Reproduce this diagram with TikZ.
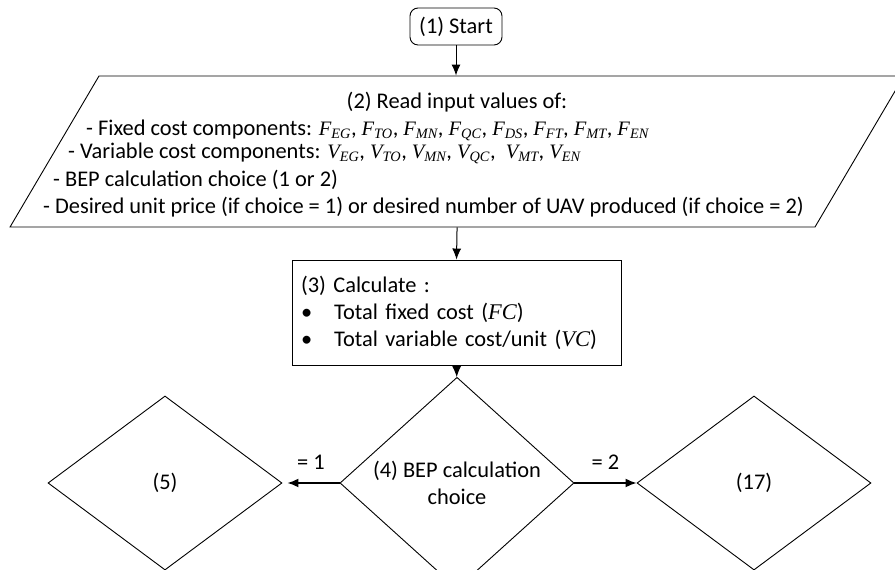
\documentclass[tikz,border=0pt]{standalone}
\usepackage{fontspec}
\setmainfont{Carlito}
\newfontfamily\tnr{Liberation Serif}
\usetikzlibrary{shapes.geometric,positioning,arrows.meta}

% cost symbol with subscript, e.g. \cv{F}{EG}
\newcommand{\cv}[2]{{\fontsize{20.5}{25}\tnr\itshape #1\textsubscript{#2}}}

\begin{document}
\begin{tikzpicture}[x=1pt, y=1pt, >={Latex[length=11pt,width=9pt]},
    font=\fontsize{22.4}{27}\selectfont,
    startbox/.style={draw, line width=0.9pt, rounded corners=8pt, minimum width=92pt, minimum height=37pt, inner sep=2pt},
    iobox/.style={draw, line width=0.9pt, trapezium, trapezium left angle=59.5, trapezium right angle=120.5, inner sep=0pt},
    procbox/.style={draw, line width=0.9pt, minimum width=329pt, minimum height=105pt, text width=311pt, align=left, inner xsep=9pt},
    decision/.style={draw, line width=0.9pt, diamond, minimum width=234pt, minimum height=174pt, inner sep=0pt, align=center},
    flow/.style={->, line width=1pt},
    branch/.style={->, line width=1.7pt}]
  \useasboundingbox (0,0) rectangle (895,570);

% boxes
  \node[startbox] (start) at (456,543.5) {(1) Start};
  % input box: body 716 x 151, the slanted sides add 89 on each end
  \node[iobox] (read) at (457,418.5) {\rule{716pt}{0pt}\rule{0pt}{151pt}};
  \node (readtitle) at (457,468) {(2) Read input values of:};
  \node[anchor=west, inner sep=0pt] (readfix) at (86,440) {- Fixed cost components: \cv{F}{EG}, \cv{F}{TO}, \cv{F}{MN}, \cv{F}{QC}, \cv{F}{DS}, \cv{F}{FT}, \cv{F}{MT}, \cv{F}{EN}};
  \node[anchor=west, inner sep=0pt] (readvar) at (68,417) {- Variable cost components: \cv{V}{EG}, \cv{V}{TO}, \cv{V}{MN}, \cv{V}{QC},\ \ \cv{V}{MT}, \cv{V}{EN}};
  \node[anchor=west, inner sep=0pt] (readbep) at (53,390) {- BEP calculation choice (1 or 2)};
  \node[anchor=west, inner sep=0pt] (readunit) at (43,363) {- Desired unit price (if choice = 1) or desired number of UAV produced (if choice = 2)};

  \node[procbox] (calc) at (456.5,257.5) {(3) Calculate :\\
    \textbullet\hspace{22pt}Total fixed cost ({\tnr\itshape FC})\\
    \textbullet\hspace{22pt}Total variable cost/unit ({\tnr\itshape VC})};

  \node[decision] (choice) at (457,87) {(4) BEP calculation\\choice};
  \node[decision] (unitprice) at (165,87) {(5)};
  \node[decision] (unitcount) at (754,87) {(17)};

% connectors
  \draw[flow] (start) -- (start.south |- read.north);
  \draw[flow] (read.south) -- (calc.north);
  \draw[flow] (calc) -- (choice);
  \draw[branch, shorten >=5pt] (choice) -- node[above=9pt] (lbl1) {= 1} (unitprice);
  \draw[branch] (choice) -- node[above=9pt] (lbl2) {= 2} (unitcount);
\end{tikzpicture}
\end{document}
